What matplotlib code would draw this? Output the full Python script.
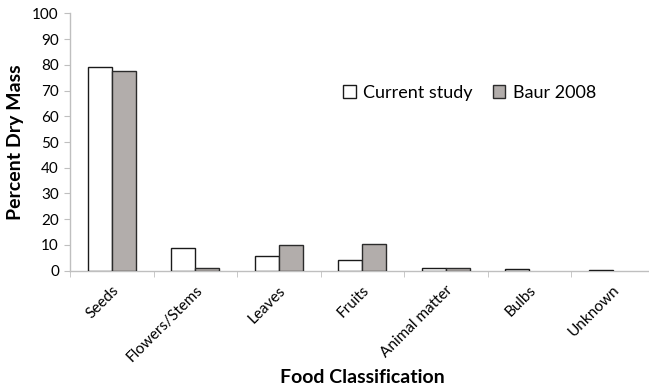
import matplotlib.pyplot as plt
import numpy as np

plt.rcParams['font.family'] = ['Lato', 'DejaVu Sans']

categories = ['Seeds', 'Flowers/Stems', 'Leaves', 'Fruits', 'Animal matter',
              'Bulbs', 'Unknown']
current_study = [79.2, 8.7, 5.8, 4.0, 1.2, 0.7, 0.2]
baur_2008 = [77.4, 1.2, 9.9, 10.5, 1.0, 0.0, 0.0]

fig = plt.figure(figsize=(6.49, 3.89), dpi=100)
ax = fig.add_axes([70 / 649, 118.3 / 389, 584.5 / 649, 257.4 / 389])

x = np.arange(len(categories))
w = 0.29
b1 = ax.bar(x - w / 2, current_study, w, color='white', edgecolor='#1a1a1a',
            linewidth=1.0, label='Current study', zorder=3)
b2 = ax.bar(x + w / 2, baur_2008, w, color='#b2adab', edgecolor='#2b2b2b',
            linewidth=1.0, label='Baur 2008', zorder=3)
# empty values are not drawn
for p in list(b1) + list(b2):
    if p.get_height() == 0:
        p.set_visible(False)

ax.set_xlim(-0.5, len(categories) - 0.5)
ax.set_ylim(0, 100)
ax.set_yticks(range(0, 101, 10))

# Excel-style ticks between categories
ax.set_xticks(x)
ax.set_xticklabels(categories, rotation=45, ha='right',
                   rotation_mode='anchor', fontsize=11)
ax.tick_params(axis='x', which='major', length=0, pad=9)
ax.set_xticks(np.arange(len(categories) + 1) - 0.5, minor=True)
ax.tick_params(axis='x', which='minor', length=4, color='#bfbfbf')
ax.tick_params(axis='y', length=4, color='#bfbfbf', labelsize=11, pad=4)

for side in ['top', 'right']:
    ax.spines[side].set_visible(False)
for side in ['left', 'bottom']:
    ax.spines[side].set_color('#bfbfbf')
    ax.spines[side].set_linewidth(1.0)

ax.set_ylabel('Percent Dry Mass', fontsize=14, fontweight='bold', labelpad=6)
ax.set_xlabel('Food Classification', fontsize=14, fontweight='bold',
              labelpad=3)

ax.legend(loc='upper left', bbox_to_anchor=(0.44, 0.785), ncol=2,
          frameon=False, fontsize=13, handlelength=0.7, handleheight=0.7,
          handletextpad=0.4, columnspacing=1.1)

fig.savefig('out.png', dpi=100)
